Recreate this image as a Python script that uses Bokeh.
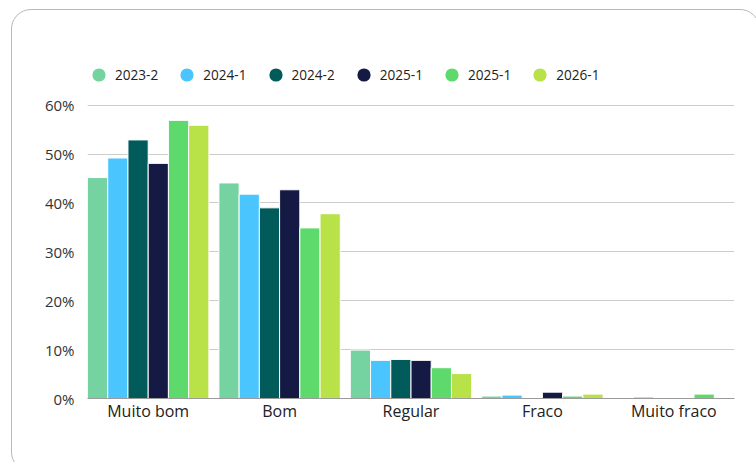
from bokeh.plotting import figure
from bokeh.models import (FactorRange, Range1d, Legend, LegendItem,
                          PrintfTickFormatter, FixedTicker, ColumnDataSource)
from bokeh.transform import dodge
from bokeh.embed import file_html
from bokeh.resources import INLINE

categories = ["Muito bom", "Bom", "Regular", "Fraco", "Muito fraco"]
series_labels = ["2023-2", "2024-1", "2024-2", "2025-1", "2025-1", "2026-1"]
series_colors = ["#74D3A0", "#4BC5FE", "#015B5B", "#151A45", "#5DDA6B", "#B9E148"]

v_2023_2 = [45.2, 44.1, 9.9, 0.5, 0.0]
v_2024_1 = [49.2, 41.8, 7.8, 0.7, 0.3]
v_2024_2 = [52.9, 39.0, 8.0, 0.0, 0.0]
v_2025_1a = [48.1, 42.7, 7.8, 1.3, 0.0]
v_2025_1b = [56.9, 34.9, 6.3, 0.5, 0.9]
v_2026_1 = [55.9, 37.8, 5.1, 0.9, 0.0]

y_ticks = [0, 10, 20, 30, 40, 50, 60]

series_values = [v_2023_2, v_2024_1, v_2024_2, v_2025_1a, v_2025_1b, v_2026_1]
keys = ["s0", "s1", "s2", "s3", "s4", "s5"]

data = {"cat": categories}
for k, vals in zip(keys, series_values):
    data[k] = vals
source = ColumnDataSource(data)

FONT = "Open Sans"

# layout (pixels): frame spans y 40..398; the 60% line sits at y~104.7
W, H = 756, 462
FRAME_TOP, FRAME_BOTTOM, Y60_PX = 40, 398, 104.7
y_end = 60 * (FRAME_BOTTOM - FRAME_TOP) / (FRAME_BOTTOM - Y60_PX)

card_css = """
:host { position: relative; overflow: hidden; }
:host::after {
  content: "";
  position: absolute !important;
  left: 11px !important; top: 9px !important;
  right: -4px !important; bottom: -10px !important;
  width: auto !important; height: auto !important;
  max-width: none !important; max-height: none !important;
  box-sizing: border-box;
  border: 1.5px solid #b8b8b8;
  border-radius: 20px;
  pointer-events: none;
  z-index: 10;
}
"""

p = figure(
    width=W, height=H,
    x_range=FactorRange(factors=categories, range_padding=0, factor_padding=10 / 121),
    y_range=Range1d(0, y_end),
    output_backend="svg", toolbar_location=None,
    min_border_left=87, min_border_right=22,
    min_border_top=FRAME_TOP, min_border_bottom=H - FRAME_BOTTOM,
    stylesheets=[card_css],
)
p.outline_line_color = None
p.background_fill_color = "white"
p.border_fill_color = "white"

n = len(keys)
bw = 1.0 / n
for i, k in enumerate(keys):
    off = (i - (n - 1) / 2) * bw
    p.vbar(x=dodge("cat", off, range=p.x_range), top=k, width=bw, source=source,
           fill_color=series_colors[i], line_color="white", line_width=1)

# legend: hidden scatter renderers (same data) supply the circular swatches
items = []
for i, (k, lab) in enumerate(zip(keys, series_labels)):
    r = p.scatter(x="cat", y=k, source=source, marker="circle", size=13,
                  fill_color=series_colors[i], line_color=None, visible=False)
    items.append(LegendItem(label=lab, renderers=[r], index=0))

legend = Legend(items=items, orientation="horizontal", location=(-5, 307),
                padding=0, margin=0, spacing=12, label_standoff=0,
                glyph_width=33, glyph_height=33, label_height=32,
                border_line_color=None, background_fill_alpha=0,
                click_policy="none",
                label_text_font=FONT, label_text_font_size="13.6px", label_text_color="#222222")
p.add_layout(legend)

# axes
p.yaxis.ticker = FixedTicker(ticks=y_ticks)
p.yaxis.formatter = PrintfTickFormatter(format="%d%%")
p.yaxis.axis_line_color = None
p.yaxis.major_tick_line_color = None
p.yaxis.minor_tick_line_color = None
p.yaxis.major_tick_out = 0
p.yaxis.major_label_standoff = 13
p.yaxis.major_label_text_font = FONT
p.yaxis.major_label_text_font_size = "15px"
p.yaxis.major_label_text_color = "#333333"

p.xaxis.axis_line_color = "#9a9a9a"
p.xaxis.axis_line_width = 1
p.xaxis.major_tick_line_color = None
p.xaxis.minor_tick_line_color = None
p.xaxis.major_tick_out = 0
p.xaxis.major_label_standoff = 1
p.xaxis.major_label_text_font = FONT
p.xaxis.major_label_text_font_size = "16px"
p.xaxis.major_label_text_color = "#222222"

p.xgrid.grid_line_color = None
p.ygrid.grid_line_color = "#cccccc"
p.ygrid.grid_line_width = 1

open("out.html", "w").write(file_html(p, INLINE))
